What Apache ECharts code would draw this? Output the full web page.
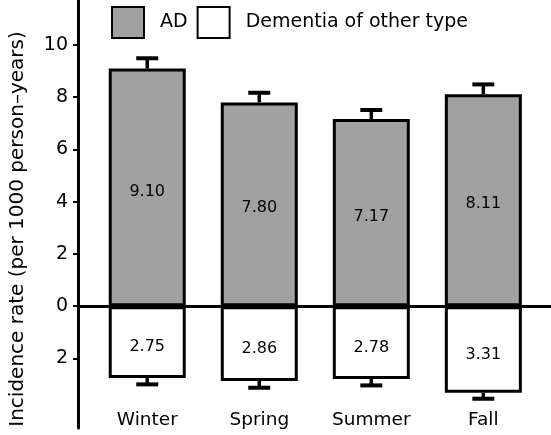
<!DOCTYPE html>
<html>
<head>
<meta charset="utf-8">
<script src="https://cdn.jsdelivr.net/npm/echarts@6/dist/echarts.min.js"></script>
<style>html,body{margin:0;padding:0;background:#fff}#c{width:551px;height:435px}</style>
</head>
<body>
<div id="c"></div>
<script>
const categories = ['Winter', 'Spring', 'Summer', 'Fall'];
const adRate = [9.10, 7.80, 7.17, 8.11];
const adErr = [0.39, 0.37, 0.34, 0.38];
const otherRate = [2.75, 2.86, 2.78, 3.31];
const otherErr = [0.24, 0.26, 0.25, 0.23];
const yTicks = [-2, 0, 2, 4, 6, 8, 10];
const seriesNames = ['AD', 'Dementia of other type'];

const FONT = 'DejaVu Sans';
const xPos = categories.map((c, i) => i + 1);
const xMin = 0.382, xMax = 4.604;

const adData = xPos.map((x, i) => [x, adRate[i]]);
const otherData = xPos.map((x, i) => [x, -otherRate[i]]);
const errData = xPos.map((x, i) => [x, adRate[i], adErr[i]])
  .concat(xPos.map((x, i) => [x, -otherRate[i], -otherErr[i]]));

const chart = echarts.init(document.getElementById('c'), null, {renderer: 'canvas'});
chart.setOption({
  animation: false,
  backgroundColor: '#fff',
  grid: {left: 73, right: 0, top: 0, bottom: 7, containLabel: false},
  legend: {
    left: 111, top: 6, padding: 0,
    itemWidth: 32, itemHeight: 31, itemGap: 9,
    icon: 'rect',
    textStyle: {fontFamily: FONT, fontSize: 19, color: '#000', padding: [0, 0, 0, 11]},
    data: seriesNames
  },
  xAxis: [{
    type: 'value', min: xMin, max: xMax, position: 'top',
    axisLine: {show: true, onZero: true, lineStyle: {color: '#000', width: 3}},
    axisTick: {show: false}, axisLabel: {show: false}, splitLine: {show: false}
  }, {
    type: 'value', min: xMin, max: xMax, position: 'bottom',
    axisLine: {show: false}, axisTick: {show: false}, splitLine: {show: false},
    axisLabel: {
      customValues: xPos, margin: -17,
      formatter: v => categories[Math.round(v) - 1] || '',
      fontFamily: FONT, fontSize: 18.5, color: '#000'
    }
  }],
  yAxis: {
    type: 'value', min: -4.66, max: 11.72,
    axisLine: {show: true, onZero: false, lineStyle: {color: '#000', width: 3}},
    axisTick: {show: true, customValues: yTicks, length: 5, lineStyle: {color: '#000', width: 2}},
    axisLabel: {customValues: yTicks, margin: 10, formatter: v => String(Math.abs(v)),
      fontFamily: FONT, fontSize: 19, color: '#000'},
    splitLine: {show: false},
    name: 'Incidence rate (per 1000 person\u2013years)',
    nameLocation: 'middle', nameGap: 50, nameRotate: 90,
    nameTextStyle: {fontFamily: FONT, fontSize: 20, color: '#000', padding: [0, 30, 0, 0]}
  },
  series: [{
    name: seriesNames[0], type: 'bar', xAxisIndex: 0, data: adData,
    barWidth: 77, barGap: '-100%',
    itemStyle: {color: '#a1a1a1', borderColor: '#000', borderWidth: 3},
    label: {show: true, position: 'inside', offset: [0, 4], color: '#000',
      fontFamily: FONT, fontSize: 16, formatter: p => p.value[1].toFixed(2)},
    z: 3
  }, {
    name: seriesNames[1], type: 'bar', xAxisIndex: 0, data: otherData,
    barWidth: 77, barGap: '-100%',
    itemStyle: {color: '#fff', borderColor: '#000', borderWidth: 3},
    label: {show: true, position: 'inside', offset: [0, 5], color: '#000',
      fontFamily: FONT, fontSize: 16, formatter: p => Math.abs(p.value[1]).toFixed(2)},
    z: 3
  }, {
    type: 'custom', xAxisIndex: 0, data: errData, z: 2,
    renderItem: (params, api) => {
      const x = api.value(0), v = api.value(1), e = api.value(2);
      const b = api.coord([x, v]);
      const t = api.coord([x, v + e]);
      return {type: 'group', children: [
        {type: 'line', shape: {x1: b[0], y1: b[1], x2: t[0], y2: t[1]}, style: {stroke: '#000', lineWidth: 3.5}},
        {type: 'line', shape: {x1: t[0] - 11, y1: t[1], x2: t[0] + 11, y2: t[1]}, style: {stroke: '#000', lineWidth: 4}}
      ]};
    }
  }]
});
</script>
</body>
</html>
